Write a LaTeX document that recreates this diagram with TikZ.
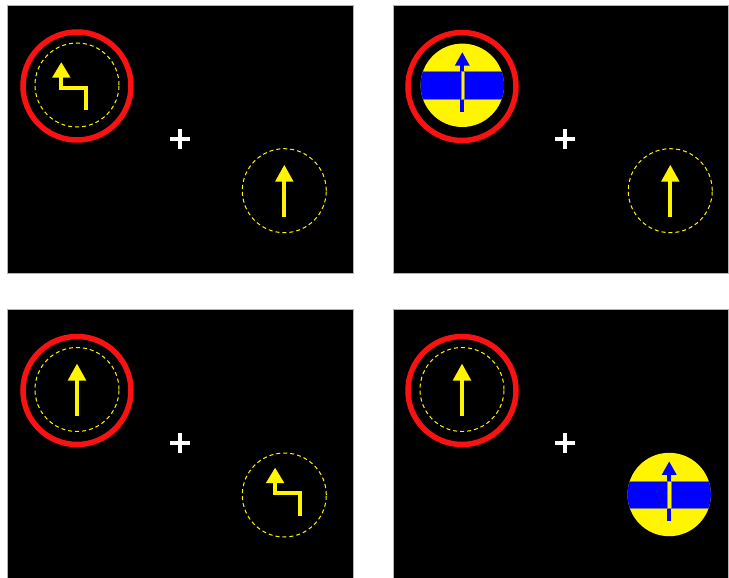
\documentclass[tikz,border=0pt]{standalone}
\begin{document}
\definecolor{ringred}{RGB}{250,18,18}
\definecolor{cueyellow}{RGB}{255,245,0}
\definecolor{cueblue}{RGB}{0,0,255}
\tikzset{
  panel/.style={fill=black, draw=gray!60, line width=0.4pt},
  ring/.style={draw=ringred, line width=5.5pt},
  dashring/.style={draw=cueyellow, line width=1pt, dash pattern=on 4pt off 3pt},
  yshaft/.style={draw=cueyellow, line width=4.3pt, line join=miter},
  yhead/.style={fill=cueyellow},
  bshaft/.style={draw=cueblue, line width=4pt},
  fixcross/.style={draw=white, line width=4.5pt},
  straightarrow/.pic={
    \draw[yshaft] (0,26) -- (0,-10);
    \fill[yhead] (-9.3,-9) -- (9.3,-9) -- (0,-25.7) -- cycle;
  },
  bentarrow/.pic={
    \draw[yshaft] (9.3,25) -- (9.3,2.7) -- (-15.7,2.7) -- (-15.7,-8.3);
    \fill[yhead] (-25,-7.3) -- (-6.4,-7.3) -- (-15.7,-22.7) -- cycle;
  },
  cuedisc/.pic={
    \begin{scope}
      \clip (0,0) circle (41.7pt);
      \fill[cueyellow] (-43,-43) rectangle (43,43);
      \fill[cueblue] (-43,-13.7) rectangle (43,13.7);
      \draw[gray, line width=0.5pt] (-43,-13.7) -- (43,-13.7) (-43,13.7) -- (43,13.7);
    \end{scope}
    \draw[bshaft] (0,26.4) -- (0,-20.5);
    \fill[cueblue] (-7.5,-19.6) -- (7.5,-19.6) -- (0,-33) -- cycle;
    \fill[cueyellow, draw=gray, line width=0.4pt] (-1.6,-13.7) rectangle (1.6,13.7);
  },
  fixplus/.pic={
    \draw[fixcross] (-10,0) -- (10,0) (0,-10) -- (0,10);
  }
}
\begin{tikzpicture}[x=1pt,y=-1pt]
  \useasboundingbox (0,0) rectangle (729,578);
  \fill[white] (0,0) rectangle (729,578);
  % panels
  \draw[panel] (7,5) rectangle (353,273);
  \draw[panel] (393,5) rectangle (728.5,273);
  \draw[panel] (7,309) rectangle (353,580);
  \draw[panel] (393,309) rectangle (728.5,580);
  % top-left
  \draw[ring] (77,86) circle (54pt);
  \draw[dashring] (77,85) circle (42pt);
  \pic at (77,85) {bentarrow};
  \pic at (180,139) {fixplus};
  \draw[dashring] (284.3,190.7) circle (42pt);
  \pic at (284.3,190.7) {straightarrow};
  % top-right
  \draw[ring] (462,86.5) circle (54pt);
  \pic at (462.3,85.3) {cuedisc};
  \pic at (565,139) {fixplus};
  \draw[dashring] (670.3,190.7) circle (42pt);
  \pic at (670.3,190.7) {straightarrow};
  % bottom-left
  \draw[ring] (77,390.5) circle (54pt);
  \draw[dashring] (77,389.5) circle (42pt);
  \pic at (77,389.5) {straightarrow};
  \pic at (180,443) {fixplus};
  \draw[dashring] (284.3,495) circle (42pt);
  \pic at (290.8,490.5) {bentarrow};
  % bottom-right
  \draw[ring] (462,390.5) circle (54pt);
  \draw[dashring] (462,389.5) circle (42pt);
  \pic at (462,389.5) {straightarrow};
  \pic at (565,443) {fixplus};
  \pic at (669.2,494.5) {cuedisc};
\end{tikzpicture}
\end{document}
